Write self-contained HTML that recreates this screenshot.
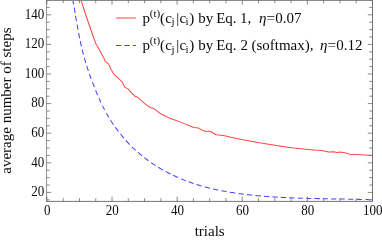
<!DOCTYPE html>
<html><head><meta charset="utf-8"><title>plot</title>
<style>html,body{margin:0;padding:0;background:#fff;} body{width:382px;height:240px;overflow:hidden;font-family:"Liberation Serif",serif;}</style>
</head><body>
<svg width="382" height="240" viewBox="0 0 382 240" style="display:block;will-change:transform">
<rect width="382" height="240" fill="#fff"/>
<path d="M80.6,-1.0 L81.0,0.0 L85.8,15.0 L90.6,29.0 L92.9,35.5 L95.8,43.7 L99.8,50.6 L103.8,58.0 L104.9,60.9 L108.7,64.1 L111.2,69.7 L114.3,74.7 L118.7,78.5 L122.4,82.4 L124.9,87.4 L128.1,88.9 L131.8,93.1 L135.0,96.2 L138.1,97.5 L141.9,101.2 L146.9,105.4 L150.4,107.5 L154.2,108.8 L159.8,113.2 L164.8,115.7 L170.5,118.6 L176.2,120.4 L182.4,122.9 L187.5,125.1 L194.0,127.4 L198.4,128.1 L204.7,131.2 L210.1,131.2 L216.0,134.8 L223.5,135.4 L231.9,137.6 L241.9,139.6 L250.0,140.9 L260.9,143.1 L271.8,144.8 L279.3,145.9 L293.6,148.1 L303.6,149.0 L314.0,150.1 L321.7,150.6 L328.4,152.1 L333.5,151.8 L336.8,152.4 L340.2,152.1 L346.0,153.1 L349.4,154.3 L360.3,154.8 L372.3,155.5" fill="none" stroke="#ff4545" stroke-width="1.02" stroke-linejoin="round"/>
<path d="M72.69,-0.77 L73.00,0.95 L73.31,2.67 L73.62,4.40 M74.19,7.68 L74.50,9.49 L74.81,11.30 L75.12,13.10 M75.58,15.81 L75.88,17.61 L76.19,19.42 L76.50,21.23 M77.07,24.53 L77.37,26.24 L77.68,27.94 L77.99,29.65 M78.59,32.92 L78.92,34.63 L79.25,36.34 L79.59,38.05 M80.24,41.17 L80.62,42.92 L81.00,44.66 L81.39,46.41 M82.15,49.62 L82.57,51.30 L83.00,52.97 L83.44,54.64 M84.36,58.00 L84.82,59.60 L85.29,61.19 L85.77,62.78 M86.74,65.91 L87.28,67.58 L87.83,69.24 L88.38,70.90 M89.44,73.96 L90.02,75.61 L90.61,77.25 L91.21,78.89 M92.48,82.28 L93.10,83.92 L93.73,85.54 L94.37,87.17 M95.60,90.24 L96.27,91.86 L96.95,93.48 L97.64,95.09 M98.96,98.12 L99.61,99.58 L100.27,101.03 L100.94,102.48 M102.49,105.74 L103.18,107.13 L103.87,108.52 L104.57,109.89 M106.38,113.26 L107.14,114.61 L107.92,115.96 L108.72,117.29 M110.51,120.19 L111.48,121.69 L112.48,123.18 L113.49,124.67 M115.28,127.18 L116.35,128.64 L117.43,130.09 L118.53,131.52 M120.54,134.06 L121.67,135.47 L122.83,136.86 L123.99,138.24 M125.85,140.38 L127.11,141.79 L128.40,143.18 L129.70,144.55 M131.93,146.82 L133.15,148.00 L134.38,149.18 L135.63,150.33 M137.81,152.29 L139.18,153.47 L140.56,154.63 L141.95,155.78 M144.25,157.61 L145.64,158.67 L147.05,159.72 L148.46,160.76 M151.10,162.61 L152.57,163.62 L154.06,164.61 L155.56,165.58 M158.33,167.31 L159.83,168.21 L161.34,169.10 L162.86,169.97 M165.72,171.55 L167.32,172.40 L168.94,173.24 L170.56,174.05 M173.10,175.29 L174.72,176.05 L176.34,176.79 L177.97,177.51 M181.14,178.85 L182.72,179.50 L184.31,180.13 L185.90,180.74 M188.57,181.73 L190.23,182.33 L191.90,182.90 L193.57,183.47 M196.46,184.40 L198.15,184.93 L199.85,185.44 L201.55,185.93 M204.75,186.83 L206.46,187.28 L208.17,187.72 L209.88,188.15 M213.13,188.93 L214.81,189.31 L216.50,189.69 L218.19,190.05 M221.40,190.70 L223.14,191.04 L224.87,191.36 L226.61,191.68 M229.82,192.23 L231.64,192.53 L233.46,192.81 L235.28,193.09 M238.56,193.56 L240.28,193.79 L242.00,194.02 L243.72,194.24 M246.99,194.63 L248.75,194.83 L250.51,195.02 L252.28,195.21 M255.44,195.52 L257.30,195.69 L259.16,195.86 L261.02,196.02 M264.07,196.27 L265.83,196.40 L267.60,196.54 L269.36,196.66 M272.40,196.86 L274.19,196.98 L275.98,197.09 L277.77,197.19 M280.80,197.36 L282.56,197.45 L284.31,197.54 L286.06,197.62 M289.19,197.76 L290.94,197.83 L292.69,197.90 L294.44,197.97 M297.87,198.09 L299.52,198.15 L301.16,198.20 L302.81,198.25 M306.24,198.35 L307.89,198.39 L309.53,198.43 L311.18,198.47 M314.51,198.55 L316.29,198.59 L318.07,198.63 L319.85,198.66 M322.79,198.72 L324.47,198.75 L326.15,198.78 L327.84,198.81 M331.27,198.87 L332.95,198.90 L334.64,198.92 L336.32,198.95 M339.76,199.01 L341.42,199.04 L343.07,199.07 L344.73,199.10 M348.28,199.16 L349.97,199.19 L351.66,199.22 L353.35,199.26 M356.80,199.33 L358.50,199.37 L360.20,199.40 L361.89,199.45 M365.56,199.54 L367.29,199.59 L369.03,199.64 L370.76,199.69" fill="none" stroke="#4242ff" stroke-width="1.02" stroke-linejoin="round"/>
<g fill="none" stroke-width="1">
<path d="M46.5,201.9 V0" stroke="#9a9a9a" stroke-width="1.1"/>
<path d="M372.5,201.9 V0" stroke="#707070"/>
<path d="M46.0,201.4 H373.0" stroke="#767676"/>
<path d="M46.0,0.5 H373.0" stroke="#8a8a8a"/>
<path d="M46.90,201.4 v-4.7 M46.90,0 v4.7 M63.18,201.4 v-3.2 M63.18,0 v3.2 M79.46,201.4 v-3.2 M79.46,0 v3.2 M95.74,201.4 v-3.2 M95.74,0 v3.2 M112.02,201.4 v-4.7 M112.02,0 v4.7 M128.30,201.4 v-3.2 M128.30,0 v3.2 M144.58,201.4 v-3.2 M144.58,0 v3.2 M160.86,201.4 v-3.2 M160.86,0 v3.2 M177.14,201.4 v-4.7 M177.14,0 v4.7 M193.42,201.4 v-3.2 M193.42,0 v3.2 M209.70,201.4 v-3.2 M209.70,0 v3.2 M225.98,201.4 v-3.2 M225.98,0 v3.2 M242.26,201.4 v-4.7 M242.26,0 v4.7 M258.54,201.4 v-3.2 M258.54,0 v3.2 M274.82,201.4 v-3.2 M274.82,0 v3.2 M291.10,201.4 v-3.2 M291.10,0 v3.2 M307.38,201.4 v-4.7 M307.38,0 v4.7 M323.66,201.4 v-3.2 M323.66,0 v3.2 M339.94,201.4 v-3.2 M339.94,0 v3.2 M356.22,201.4 v-3.2 M356.22,0 v3.2 M372.50,201.4 v-4.7 M372.50,0 v4.7 M46.5,199.80 h3.2 M372.5,199.80 h-3.2 M46.5,192.40 h4.7 M372.5,192.40 h-4.7 M46.5,185.00 h3.2 M372.5,185.00 h-3.2 M46.5,177.60 h3.2 M372.5,177.60 h-3.2 M46.5,170.20 h3.2 M372.5,170.20 h-3.2 M46.5,162.80 h4.7 M372.5,162.80 h-4.7 M46.5,155.40 h3.2 M372.5,155.40 h-3.2 M46.5,148.00 h3.2 M372.5,148.00 h-3.2 M46.5,140.60 h3.2 M372.5,140.60 h-3.2 M46.5,133.20 h4.7 M372.5,133.20 h-4.7 M46.5,125.80 h3.2 M372.5,125.80 h-3.2 M46.5,118.40 h3.2 M372.5,118.40 h-3.2 M46.5,111.00 h3.2 M372.5,111.00 h-3.2 M46.5,103.60 h4.7 M372.5,103.60 h-4.7 M46.5,96.20 h3.2 M372.5,96.20 h-3.2 M46.5,88.80 h3.2 M372.5,88.80 h-3.2 M46.5,81.40 h3.2 M372.5,81.40 h-3.2 M46.5,74.00 h4.7 M372.5,74.00 h-4.7 M46.5,66.60 h3.2 M372.5,66.60 h-3.2 M46.5,59.20 h3.2 M372.5,59.20 h-3.2 M46.5,51.80 h3.2 M372.5,51.80 h-3.2 M46.5,44.40 h4.7 M372.5,44.40 h-4.7 M46.5,37.00 h3.2 M372.5,37.00 h-3.2 M46.5,29.60 h3.2 M372.5,29.60 h-3.2 M46.5,22.20 h3.2 M372.5,22.20 h-3.2 M46.5,14.80 h4.7 M372.5,14.80 h-4.7 M46.5,7.40 h3.2 M372.5,7.40 h-3.2 M46.5,0.00 h3.2 M372.5,0.00 h-3.2" stroke="#6a6a6a" stroke-width="0.8"/>
</g>
<g font-family="'Liberation Serif', serif" font-size="13.7" fill="#0a0a0a">
<text transform="translate(47.2,215.3) scale(0.95,1)" text-anchor="middle">0</text>
<text transform="translate(112.3,215.3) scale(0.95,1)" text-anchor="middle">20</text>
<text transform="translate(177.4,215.3) scale(0.95,1)" text-anchor="middle">40</text>
<text transform="translate(242.6,215.3) scale(0.95,1)" text-anchor="middle">60</text>
<text transform="translate(307.7,215.3) scale(0.95,1)" text-anchor="middle">80</text>
<text transform="translate(372.8,215.3) scale(0.95,1)" text-anchor="middle">100</text>
<text transform="translate(44.3,196.1) scale(0.95,1)" text-anchor="end">20</text>
<text transform="translate(44.3,166.5) scale(0.95,1)" text-anchor="end">40</text>
<text transform="translate(44.3,136.9) scale(0.95,1)" text-anchor="end">60</text>
<text transform="translate(44.3,107.3) scale(0.95,1)" text-anchor="end">80</text>
<text transform="translate(44.3,77.7) scale(0.95,1)" text-anchor="end">100</text>
<text transform="translate(44.3,48.1) scale(0.95,1)" text-anchor="end">120</text>
<text transform="translate(44.3,18.5) scale(0.95,1)" text-anchor="end">140</text>
</g>
<g font-family="'Liberation Serif', serif" font-size="15" fill="#0a0a0a">
<text x="209.7" y="236.3" text-anchor="middle">trials</text>
<text transform="translate(11.3,100.6) rotate(-90)" text-anchor="middle" >average number of steps</text>
</g>
<path d="M116,18 H135.9" stroke="#ff4545" stroke-width="1.02"/>
<path d="M116,45.45 H136" stroke="#4242ff" stroke-width="1.02" stroke-dasharray="5.2 3.27"/>
<g font-family="'Liberation Serif', serif" font-size="15" fill="#0a0a0a">
<text x="142.6" y="22.8">p</text>
<text x="149.8" y="16.8" font-size="11">(t)</text>
<text x="159.9" y="22.8">(</text>
<text x="165.3" y="22.8">c</text>
<text x="171.4" y="25.3" font-size="11">j</text>
<text x="176.2" y="22.8">|</text>
<text x="179.6" y="22.8">c</text>
<text x="185.4" y="25.3" font-size="11">i</text>
<text x="189.2" y="22.8">)</text>
<text x="198.3" y="22.8">by</text>
<text x="216.2" y="22.8">Eq.</text>
<text x="239.9" y="22.8">1,</text>
<text x="259.0" y="22.8" font-style="italic">η</text>
<text x="266.6" y="22.8">=</text>
<text x="275.2" y="22.8">0.07</text>
</g>
<g font-family="'Liberation Serif', serif" font-size="15" fill="#0a0a0a">
<text x="142.6" y="50.2">p</text>
<text x="149.8" y="44.2" font-size="11">(t)</text>
<text x="159.9" y="50.2">(</text>
<text x="165.3" y="50.2">c</text>
<text x="171.4" y="52.7" font-size="11">j</text>
<text x="176.2" y="50.2">|</text>
<text x="179.6" y="50.2">c</text>
<text x="185.4" y="52.7" font-size="11">i</text>
<text x="189.2" y="50.2">)</text>
<text x="198.3" y="50.2">by</text>
<text x="216.2" y="50.2">Eq.</text>
<text x="240.4" y="50.2">2</text>
<text x="251.4" y="50.2">(softmax),</text>
<text x="319.9" y="50.2" font-style="italic">η</text>
<text x="327.6" y="50.2">=</text>
<text x="336.3" y="50.2">0.12</text>
</g>
</svg>
</body></html>
